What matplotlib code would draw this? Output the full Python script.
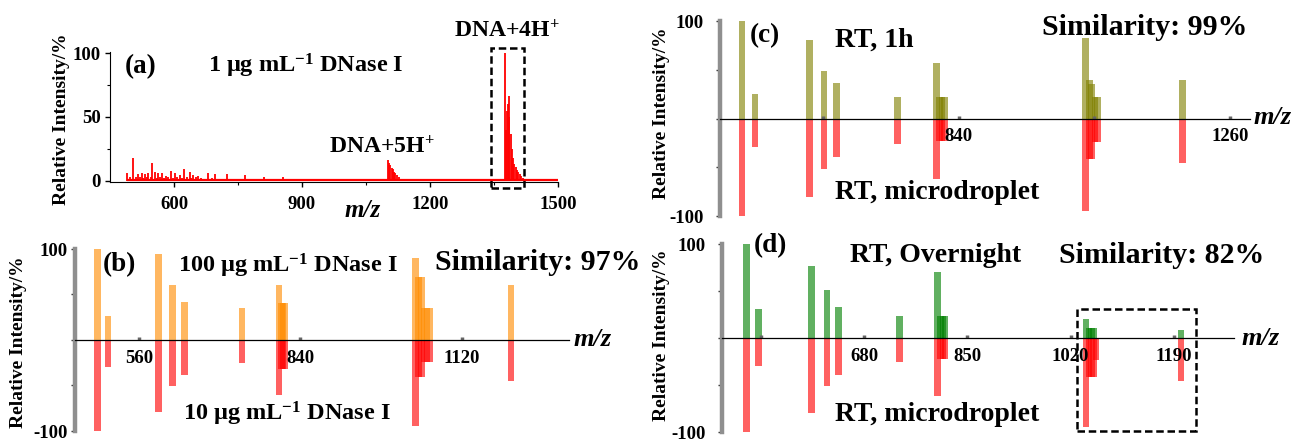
import numpy as np
import matplotlib.pyplot as plt
from matplotlib.patches import Rectangle

plt.rcParams['font.family'] = ['Liberation Serif', 'DejaVu Serif']
plt.rcParams['font.weight'] = 'bold'
plt.rcParams['mathtext.fontset'] = 'custom'
plt.rcParams['mathtext.rm'] = 'Liberation Serif:bold'
plt.rcParams['mathtext.it'] = 'Liberation Serif:italic:bold'
plt.rcParams['mathtext.bf'] = 'Liberation Serif:bold'
plt.rcParams['axes.unicode_minus'] = False

W, H = 1293, 440

# (a) full spectrum, 1 ug/mL DNase I
a_mz = [491, 498, 505, 510, 516, 520, 524, 528, 532, 536, 540, 545, 549, 555, 559, 563, 567,
        571, 576, 581, 586, 593, 598, 602, 608, 614, 619, 624, 630, 637, 641, 645, 651, 657,
        663, 670, 680, 688, 697, 705, 725, 740, 766, 785, 812, 830, 855, 905,
        1101, 1104, 1107, 1110, 1113, 1116, 1119, 1122, 1127, 1133,
        1376, 1378, 1380, 1382, 1384, 1386, 1389, 1392, 1395, 1398, 1401, 1404, 1407, 1410,
        1413, 1417, 1420]
a_int = [5.8, 3, 17.5, 2.5, 5.2, 3, 5.8, 2, 5, 3, 5.8, 2.5, 14, 6.5, 2, 6.3, 3,
         5.8, 2, 3.7, 2.5, 7.9, 2, 5.8, 3, 4.5, 2, 8.9, 3, 6.5, 2, 4.5, 2.5, 3.7,
         2, 1.5, 5.8, 2, 5.2, 1.5, 5, 1.5, 4.2, 1.2, 3.1, 1, 2.6, 1.5,
         16, 14, 12, 10, 9, 7, 6, 4.5, 3, 1.5,
         100, 40, 55, 60, 66.5, 50, 37, 25, 18, 13, 11, 8, 7, 5,
         4, 2, 1]
a_base = [490, 1500]

# (b) 100 ug/mL (up) vs 10 ug/mL (down)
b_mz = [488, 506, 594, 618, 639, 739, 803, 807, 810, 813,
        1040, 1045, 1050, 1055, 1060, 1065, 1205]
b_top = [100, 26.5, 94.3, 60, 41.3, 35.3, 60.8, 40.6, 40.6, 40.6,
         90, 69.6, 69.6, 35.3, 35.3, 35.3, 60.8]
b_bot = [100, 29.3, 79.5, 50.2, 38.9, 25.4, 60.8, 31.8, 31.8, 31.8,
         94.3, 40.6, 40.6, 24, 24, 24, 45.2]

# (c) RT 1h (up) vs RT microdroplet (down)
c_mz = [504, 524, 609, 631, 650, 745, 805, 810, 814, 818,
        1036, 1042, 1046, 1051, 1055, 1186]
c_top = [100, 24.7, 81, 49, 36.6, 22.3, 56.5, 21.6, 21.6, 21.6,
         83, 39.4, 35, 22.3, 22.3, 39.3]
c_bot = [100, 29, 80.5, 51.4, 39.4, 26.4, 61.6, 23, 23, 23,
         95, 42, 42, 24, 24, 45.5]

# (d) RT overnight (up) vs RT microdroplet (down)
d_mz = [486, 506, 593, 619, 638, 738, 801, 806, 810, 813,
        1045, 1050, 1054, 1058, 1062, 1202]
d_top = [100, 31.4, 77.4, 51.6, 33.1, 23.3, 70.4, 23.7, 23.7, 23.7,
         20.9, 11.1, 11.1, 11.1, 0, 8.7]
d_bot = [100, 29.6, 80, 50.5, 39, 25.4, 61.7, 22, 22, 22,
         94.8, 41.8, 41.8, 41.8, 23.7, 45.2]

fig = plt.figure(figsize=(W / 100, H / 100), dpi=100)


def rect(x0, y0, x1, y1):
    # pixel box -> figure fraction
    return [x0 / W, 1 - y1 / H, (x1 - x0) / W, (y1 - y0) / H]


def txt(x, y, s, size, **kw):
    kw.setdefault('va', 'baseline')
    kw.setdefault('ha', 'left')
    fig.text(x / W, 1 - y / H, s, fontsize=size, fontweight='bold', **kw)


# ---- panel (a)
ax = fig.add_axes(rect(110, 52, 558, 181.7))
ax.vlines(a_mz, 0, a_int, color='red', lw=1.3)
ax.hlines(0.4, a_base[0], a_base[1], color='red', lw=1.6)
ax.set_xlim(450, 1500)
ax.set_ylim(-0.8, 101)
ax.spines[['top', 'right']].set_visible(False)
ax.set_xticks([600, 900, 1200, 1500])
ax.set_xticks([750, 1050, 1350], minor=True)
ax.set_yticks([0, 50, 100])
ax.set_yticks([25, 75], minor=True)
ax.tick_params(which='major', direction='out', length=3.6, width=1, labelsize=13.5)
ax.tick_params(which='minor', direction='out', length=2.5, width=0.8)
ax.tick_params(axis='x', pad=7)
ax.tick_params(axis='y', pad=3)
ax.add_patch(Rectangle((1343, -5.7), 77, 109.7, fill=False, ls=(0, (3, 1.5)),
                       lw=1.8, color='black', clip_on=False))
txt(363, 210, 'm/z', 18, ha='center', va='center', style='italic')
txt(62, 119, 'Relative Intensity/%', 14, ha='center', va='center', rotation=90)
txt(125, 73, '(a)', 19.5)
txt(208, 73, r'1 μg mL$^{-1}$ DNase I', 17.5)
txt(454, 37, r'DNA+4H$^{+}$', 17)
txt(329, 153, r'DNA+5H$^{+}$', 17)


def mirror(box, xlim, mz, top, bot, c_top, c_bot, width, ticks, labels, ypad):
    ax = fig.add_axes(rect(*box))
    ax.patch.set_alpha(0)
    ax.bar(mz, top, width=width, color=c_top, alpha=0.62, lw=0)
    ax.bar(mz, -np.array(bot), width=width, color=c_bot, alpha=0.62, lw=0)
    ax.set_xlim(xlim)
    ax.set_ylim(-100, 100)
    ax.spines[['top', 'right']].set_visible(False)
    ax.spines['bottom'].set_position(('data', 0))
    ax.spines['bottom'].set_linewidth(0.9)
    ax.spines['left'].set_color('#8f8f8f')
    ax.spines['left'].set_linewidth(3.2)
    ax.set_yticks([-100, -50, 0, 50, 100])
    ax.set_yticklabels(['-100', '', '', '', '100'])
    ax.set_xticks(ticks)
    ax.set_xticklabels(labels)
    ax.tick_params(axis='x', direction='in', length=2, width=2.5, color='#666666',
                   pad=7, labelsize=13.5)
    ax.tick_params(axis='y', direction='out', length=3, width=1, color='#333333',
                   pad=ypad, labelsize=13.5)
    return ax


# ---- panel (b)
mirror((75, 249, 569, 431), (449, 1306), b_mz, b_top, b_bot, '#ff8c00', '#ff0000',
       11, [560, 840, 1120], ['560', '840', '1120'], 2)
txt(574, 340, 'm/z', 19, va='center', style='italic')
txt(19, 342, 'Relative Intensity/%', 14, ha='center', va='center', rotation=90)
txt(103, 271, '(b)', 19.5)
txt(178, 272, r'100 μg mL$^{-1}$ DNase I', 17.5)
txt(435, 270, 'Similarity: 97%', 21.5)
txt(183, 420, r'10 μg mL$^{-1}$ DNase I', 17.5)

# ---- panel (c)
mirror((720, 21, 1250, 216), (470, 1291), c_mz, c_top, c_bot, '#808000', '#ff0000',
       10.4, [630, 840, 1050, 1260], ['', '840', '', '1260'], 9)
txt(1254, 118, 'm/z', 19, va='center', style='italic')
txt(661, 113, 'Relative Intensity/%', 14, ha='center', va='center', rotation=90)
txt(750, 42, '(c)', 19.5)
txt(835, 47, 'RT, 1h', 20)
txt(1042, 35, 'Similarity: 99%', 21.5)
txt(835, 199, 'RT, microdroplet', 20)

# ---- panel (d)
axd = mirror((722, 244.3, 1234, 432), (446, 1289), d_mz, d_top, d_bot, '#008000', '#ff0000',
             10.7, [510, 680, 850, 1020, 1190], ['', '680', '850', '1020', '1190'], 9)
axd.add_patch(Rectangle((1031, -99), 195, 130.3, fill=False, ls=(0, (3, 1.5)),
                        lw=1.8, color='black', clip_on=False))
txt(1242, 338, 'm/z', 19, va='center', style='italic')
txt(661, 335, 'Relative Intensity/%', 14, ha='center', va='center', rotation=90)
txt(754, 252, '(d)', 19.5)
txt(850, 262, 'RT, Overnight', 20)
txt(1059, 263, 'Similarity: 82%', 21.5)
txt(835, 421, 'RT, microdroplet', 20)

fig.savefig('out.png', dpi=100)
